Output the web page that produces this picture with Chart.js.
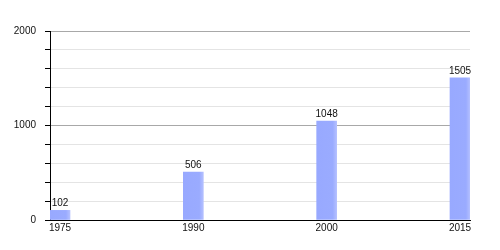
<!DOCTYPE html>
<html>
<head>
<meta charset="utf-8">
<script src="https://cdn.jsdelivr.net/npm/chart.js@4/dist/chart.umd.min.js"></script>
<style>
  html, body { margin: 0; padding: 0; background: #fff; }
  #wrap { width: 500px; height: 250px; }
</style>
</head>
<body>
<div id="wrap"><canvas id="c" width="500" height="250"></canvas></div>
<script>
const years = ['1975', '1990', '2000', '2015'];
const population = [102, 506, 1048, 1505];
const yTickLabels = [0, 1000, 2000];

const barLabels = {
  id: 'barLabels',
  afterDatasetsDraw(chart) {
    const ctx = chart.ctx;
    const meta = chart.getDatasetMeta(0);
    ctx.save();
    ctx.font = '10px "Liberation Sans", Arial, sans-serif';
    ctx.fillStyle = '#111';
    ctx.textAlign = 'center';
    ctx.textBaseline = 'bottom';
    meta.data.forEach((el, i) => {
      ctx.fillText(String(population[i]), el.x, el.y - 2);
    });
    ctx.restore();
  }
};

function barFill(c) {
  const chart = c.chart;
  const xs = chart.scales && chart.scales.x;
  if (!xs || !c.parsed || c.type !== 'data') return '#9aabff';
  const cx = xs.getPixelForValue(c.parsed.x);
  if (!isFinite(cx)) return '#9aabff';
  const g = chart.ctx.createLinearGradient(cx - 10, 0, cx + 10, 0);
  g.addColorStop(0, '#98a9ff');
  g.addColorStop(0.8, '#9aabff');
  g.addColorStop(1, '#b4c0ff');
  return g;
}

new Chart(document.getElementById('c'), {
  type: 'bar',
  data: {
    datasets: [{
      data: years.map((y, i) => ({ x: i, y: population[i] })),
      backgroundColor: barFill,
      borderWidth: 0,
      barThickness: 20
    }]
  },
  options: {
    responsive: false,
    animation: false,
    events: [],
    layout: { padding: { top: 31, right: 30, left: 0, bottom: 0 } },
    plugins: { legend: { display: false }, tooltip: { enabled: false } },
    scales: {
      x: {
        type: 'linear',
        offset: false,
        min: -0.075,
        max: 3.075,
        afterBuildTicks: (s) => { s.ticks = years.map((_, i) => ({ value: i })); },
        afterFit: (s) => { s.height = 30; },
        ticks: {
          autoSkip: false,
          maxRotation: 0,
          padding: 2,
          color: '#111',
          font: { family: '"Liberation Sans", Arial, sans-serif', size: 10 },
          callback: (v) => years[v]
        },
        grid: { display: false, drawTicks: false, offset: false },
        border: { display: true, color: '#000', width: 1 }
      },
      y: {
        min: 0,
        max: 2000,
        afterFit: (s) => { s.width = 50; },
        ticks: {
          stepSize: 200,
          autoSkip: false,
          padding: 9,
          color: '#111',
          font: { family: '"Liberation Sans", Arial, sans-serif', size: 10 },
          callback: (v) => yTickLabels.includes(v) ? String(v) : ''
        },
        grid: {
          color: (c) => (c.tick && c.tick.value % 1000 === 0) ? '#a8a8a8' : '#e4e4e4',
          tickColor: '#000',
          tickLength: 5,
          lineWidth: 1
        },
        border: { display: true, color: '#000', width: 1 }
      }
    }
  },
  plugins: [barLabels]
});
</script>
</body>
</html>
